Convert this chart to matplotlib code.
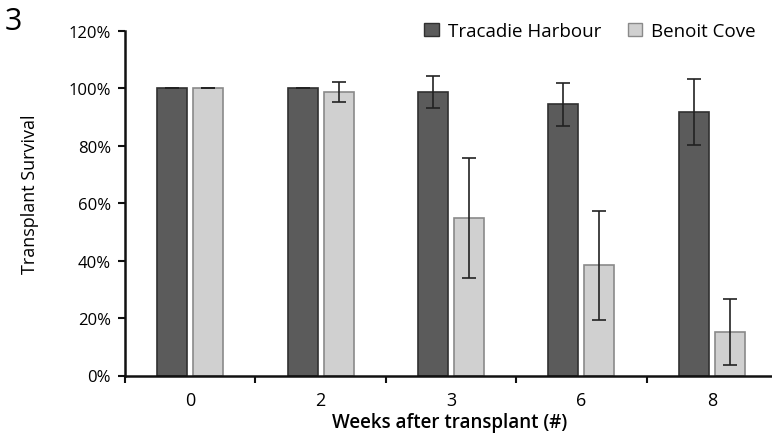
import matplotlib
matplotlib.use("Agg")
import matplotlib.pyplot as plt
import numpy as np
from matplotlib.patches import Patch
from matplotlib.ticker import FuncFormatter

plt.rcParams['font.family'] = ['Open Sans', 'DejaVu Sans']

weeks = ['0', '2', '3', '6', '8']
series_names = ['Tracadie Harbour', 'Benoit Cove']
tracadie = [100, 100, 98.7, 94.5, 91.8]
tracadie_err = [0, 0, 5.5, 7.5, 11.5]
benoit = [100, 98.8, 54.9, 38.4, 15.2]
benoit_err = [0, 3.5, 21, 19, 11.5]
yticks = [0, 20, 40, 60, 80, 100, 120]

fig = plt.figure(figsize=(7.72, 4.35), dpi=100)
ax = fig.add_axes([125/772, (435-376.5)/435, 652/772, (376.5-32)/435])

x = np.arange(len(weeks))
w = 0.23
off = 0.138
dark = '#5b5b5b'
light = '#d0d0d0'
ax.bar(x - off, tracadie, w, color=dark, edgecolor='#303030', linewidth=1.2,
       yerr=tracadie_err, error_kw=dict(ecolor='#222222', elinewidth=1.2, capsize=5, capthick=1.2))
ax.bar(x + off, benoit, w, color=light, edgecolor='#8a8a8a', linewidth=1.2,
       yerr=benoit_err, error_kw=dict(ecolor='#222222', elinewidth=1.2, capsize=5, capthick=1.2))

ax.set_xlim(-0.5, len(weeks) - 0.5)
ax.set_ylim(0, 120)
ax.set_yticks(yticks)
ax.yaxis.set_major_formatter(FuncFormatter(lambda v, p: f'{int(v)}%'))
ax.set_xticks(x)
ax.set_xticklabels(weeks, fontsize=13)
ax.set_xticks(np.arange(-0.5, len(weeks) - 0.4, 1.0), minor=True)
ax.tick_params(axis='x', which='major', length=0, pad=11)
ax.tick_params(axis='x', which='minor', length=5, width=1.5, direction='out', color='#111111')
ax.tick_params(axis='y', length=5, width=1.5, direction='out', labelsize=12, color='#111111', pad=5)

for s in ['top', 'right']:
    ax.spines[s].set_visible(False)
for s in ['left', 'bottom']:
    ax.spines[s].set_linewidth(1.8)
    ax.spines[s].set_color('#111111')

ax.set_ylabel('Transplant Survival', fontsize=13)
ax.yaxis.set_label_coords((39-125)/652, (376.5-194)/344.5)
ax.set_xlabel('Weeks after transplant (#)', fontsize=13.5, fontweight='semibold')
ax.xaxis.set_label_coords((450-125)/652, -(413-376.5)/344.5)

handles = [Patch(facecolor=dark, edgecolor='#303030', label=series_names[0]),
           Patch(facecolor=light, edgecolor='#8a8a8a', label=series_names[1])]
fig.legend(handles=handles, loc='center', bbox_to_anchor=(590/772, 1 - 32/435), ncol=2,
           frameon=False, fontsize=13.5, handlelength=0.75, handleheight=0.75,
           handletextpad=0.5, columnspacing=1.4)

fig.text(5/772, 1 - 22/435, '3', fontsize=22, va='center', ha='left')

fig.savefig('out.png', dpi=100)
